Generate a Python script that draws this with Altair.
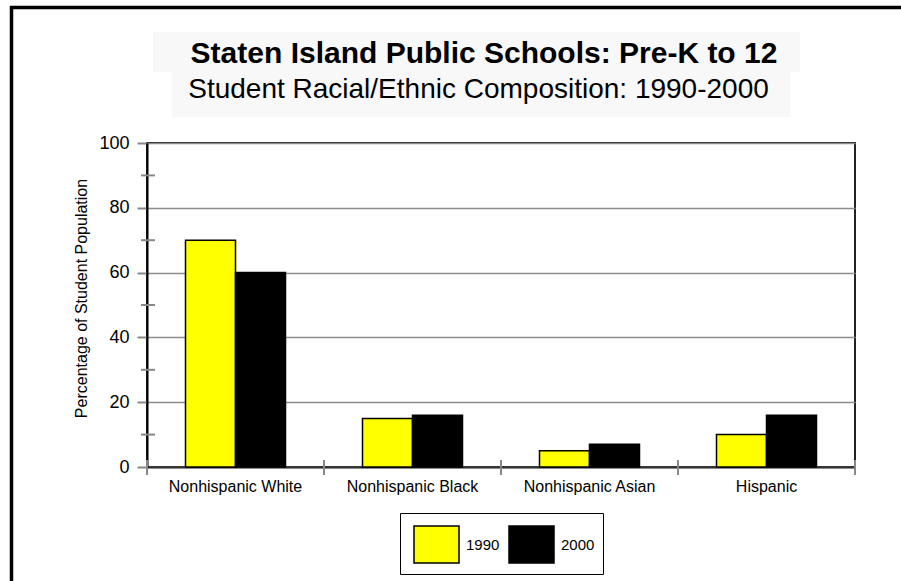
import altair as alt
import pandas as pd

# Staten Island public schools, Pre-K to 12: share of students by group
categories = ["Nonhispanic White", "Nonhispanic Black", "Nonhispanic Asian", "Hispanic"]
years = ["1990", "2000"]
share_1990 = [70, 15, 5, 10]
share_2000 = [60, 16, 7, 16]
year_colors = ["#ffff00", "#000000"]

y_major = [0, 20, 40, 60, 80, 100]
y_minor = [10, 30, 50, 70, 90]

title_text = "Staten Island Public Schools: Pre-K to 12"
subtitle_text = "Student Racial/Ethnic Composition: 1990-2000"
y_title = "Percentage of Student Population"

FONT = "Liberation Sans"
W, H = 708, 324
PAD_L, PAD_T = 147, 143

rows = []
for cat, a, b in zip(categories, share_1990, share_2000):
    rows.append({"group": cat, "year": "1990", "pct": a})
    rows.append({"group": cat, "year": "2000", "pct": b})
bars_df = pd.DataFrame(rows)
minor_df = pd.DataFrame({"pct": y_minor})
bounds_df = pd.DataFrame({"group": categories})
one = pd.DataFrame({"k": [0]})

x_scale = alt.Scale(domain=categories, paddingInner=0, paddingOuter=0)
y_scale = alt.Scale(domain=[0, 100], nice=False)

x_axis = alt.Axis(title=None, labelAngle=0, labelFontSize=16, labelColor="black",
                  labelFont=FONT, labelPadding=11, ticks=False, tickSize=0,
                  domainColor="#333333", domainWidth=2, grid=False)
y_axis = alt.Axis(values=y_major, title=y_title, titleFontSize=16, titleFontWeight="normal",
                  titleFont=FONT, titleColor="black", titlePadding=9, titleY=155,
                  labelFontSize=18, labelFont=FONT, labelColor="black", labelPadding=8,
                  tickSize=10, tickColor="#888888", tickWidth=2,
                  domainColor="black", domainWidth=2,
                  grid=True, gridColor="#8c8c8c", gridWidth=1.5)

x_enc = alt.X("group:N", scale=x_scale, sort=categories, axis=x_axis)
y_enc = alt.Y("pct:Q", scale=y_scale, axis=y_axis)

# light panels behind the two heading lines
title_bg = alt.Chart(one).mark_rect(fill="#f8f8f8").encode(
    x=alt.value(153 - PAD_L), x2=alt.value(800 - PAD_L),
    y=alt.value(32 - PAD_T), y2=alt.value(72 - PAD_T))
subtitle_bg = alt.Chart(one).mark_rect(fill="#f8f8f8").encode(
    x=alt.value(172 - PAD_L), x2=alt.value(790 - PAD_L),
    y=alt.value(72 - PAD_T), y2=alt.value(117 - PAD_T))

bars = alt.Chart(bars_df).mark_bar(stroke="black", strokeWidth=1.5).encode(
    x=x_enc,
    xOffset=alt.XOffset("year:N", sort=years,
                        scale=alt.Scale(domain=years, paddingInner=0, paddingOuter=0.77)),
    y=y_enc,
    color=alt.Color("year:N", sort=years,
                    scale=alt.Scale(domain=years, range=year_colors),
                    legend=alt.Legend(title=None, orient="none", legendX=253, legendY=370,
                                      direction="horizontal",
                                      symbolType="M-1,-0.82H1V0.82H-1Z", symbolSize=2025,
                                      symbolStrokeColor="black", symbolStrokeWidth=1.5,
                                      symbolOffset=5, labelOffset=6, columnPadding=3,
                                      labelFontSize=15, labelFont=FONT, labelColor="black",
                                      padding=8, strokeColor="black")),
)

# minor y ticks crossing the axis line
minor_ticks = alt.Chart(minor_df).mark_rule(color="#888888", strokeWidth=2).encode(
    y=y_enc, x=alt.value(-6), x2=alt.value(8))

# category boundary ticks crossing the x axis line
boundary_ticks = alt.Chart(bounds_df).mark_rule(color="#888888", strokeWidth=2).encode(
    x=alt.X("group:N", scale=x_scale, sort=categories, axis=x_axis, bandPosition=0),
    y=alt.value(H - 7), y2=alt.value(H + 8))
end_tick = alt.Chart(one).mark_rule(color="#888888", strokeWidth=2).encode(
    x=alt.value(W), y=alt.value(H - 7), y2=alt.value(H + 8))

# outer frame: top and left edges
frame_top = alt.Chart(one).mark_rule(color="black", strokeWidth=3.5).encode(
    x=alt.value(10 - PAD_L), x2=alt.value(901 - PAD_L), y=alt.value(7.5 - PAD_T))
frame_left = alt.Chart(one).mark_rule(color="black", strokeWidth=3.5).encode(
    x=alt.value(11.5 - PAD_L), y=alt.value(6 - PAD_T), y2=alt.value(581 - PAD_T))

title = alt.Chart(one).mark_text(text=title_text, font=FONT, fontSize=30, fontWeight="bold",
                                 color="black", align="center", baseline="alphabetic").encode(
    x=alt.value(484 - PAD_L), y=alt.value(63 - PAD_T))
subtitle = alt.Chart(one).mark_text(text=subtitle_text, font=FONT, fontSize=28,
                                    color="black", align="center", baseline="alphabetic").encode(
    x=alt.value(478.5 - PAD_L), y=alt.value(98 - PAD_T))

chart = alt.layer(
    title_bg, subtitle_bg, bars, minor_ticks, boundary_ticks, end_tick,
    frame_top, frame_left, title, subtitle,
).properties(
    width=W, height=H,
    autosize=alt.AutoSizeParams(type="none"),
    padding={"left": PAD_L, "top": PAD_T, "right": 901 - PAD_L - W, "bottom": 581 - PAD_T - H},
    background="white",
).configure(font=FONT).configure_view(stroke="#222222", strokeWidth=2)

chart.save("out.html", embed_options={"renderer": "svg", "actions": False})
